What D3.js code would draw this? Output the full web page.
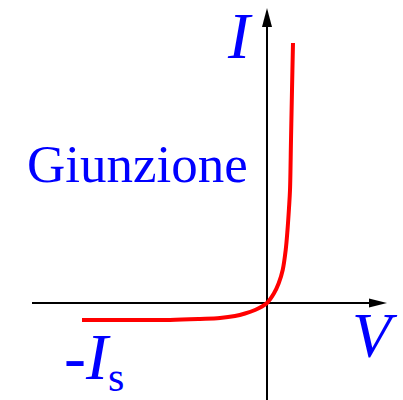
<!DOCTYPE html>
<html>
<head>
<meta charset="utf-8">
<script src="https://cdn.jsdelivr.net/npm/d3@7"></script>
</head>
<body style="margin:0">
<div id="chart"></div>
<script>
var width = 403, height = 400;
var labelFont = "Liberation Serif";

// axis extents (arbitrary units, 1 unit = 100 px)
var xDomain = [-2.35, 1.2];
var yDomain = [-0.97, 2.95];

// diode characteristic
var curveV = [-1.85, -1.37, -0.97, -0.67, -0.47, -0.32, -0.22, -0.12, -0.05, 0, 0.07, 0.117, 0.157, 0.187, 0.205, 0.22, 0.23, 0.24, 0.25, 0.26];
var curveI = [-0.17, -0.17, -0.17, -0.16, -0.15, -0.13, -0.105, -0.07, -0.035, 0, 0.097, 0.197, 0.33, 0.53, 0.73, 0.95, 1.13, 1.63, 2.13, 2.60];

var data = curveV.map((v, i) => ({ v: v, i: curveI[i] }));

var x = d3.scaleLinear().domain(xDomain).range([32, 387]);
var y = d3.scaleLinear().domain(yDomain).range([400, 8]);

var svg = d3.select("#chart").append("svg")
    .attr("width", width)
    .attr("height", height);

// axes
var axes = svg.append("g").attr("stroke", "#000").attr("stroke-width", 2);
axes.append("line")
    .attr("x1", x(xDomain[0])).attr("y1", y(0))
    .attr("x2", x(xDomain[1]) - 10).attr("y2", y(0));
axes.append("line")
    .attr("x1", x(0)).attr("y1", y(yDomain[0]))
    .attr("x2", x(0)).attr("y2", y(yDomain[1]) + 10);

// arrow heads
svg.append("path")
    .attr("fill", "#000")
    .attr("d", `M${x(xDomain[1])},${y(0)} L${x(xDomain[1]) - 18},${y(0) - 4.5} L${x(xDomain[1]) - 18},${y(0) + 4.5} Z`);
svg.append("path")
    .attr("fill", "#000")
    .attr("d", `M${x(0)},${y(yDomain[1])} L${x(0) - 5},${y(yDomain[1]) + 19} L${x(0) + 5},${y(yDomain[1]) + 19} Z`);

// the curve
var line = d3.line()
    .x(d => x(d.v))
    .y(d => y(d.i))
    .curve(d3.curveCatmullRom.alpha(0.5));

svg.append("path")
    .datum(data)
    .attr("fill", "none")
    .attr("stroke", "#ff0000")
    .attr("stroke-width", 4)
    .attr("d", line);

// labels
var labels = [
    { t: "I", x: x(0) - 39, y: 58, s: 66, it: true },
    { t: "V", x: 352, y: 357, s: 64, it: false },
    { t: "Giunzione", x: 27, y: 182, s: 53, it: false }
];
labels[1].it = true;

svg.selectAll("text.lab").data(labels).enter().append("text")
    .attr("class", "lab")
    .attr("x", d => d.x).attr("y", d => d.y)
    .attr("font-size", d => d.s)
    .attr("font-family", labelFont)
    .attr("font-style", d => d.it ? "italic" : "normal")
    .attr("fill", "#0000ff")
    .text(d => d.t);

var is = svg.append("text")
    .attr("x", 64).attr("y", 379)
    .attr("font-family", labelFont)
    .attr("font-size", 66)
    .attr("fill", "#0000ff");
is.append("tspan").text("-");
is.append("tspan").attr("font-style", "italic").text("I");
is.append("tspan").attr("dy", 12).attr("font-size", 42).text("s");
</script>
</body>
</html>
